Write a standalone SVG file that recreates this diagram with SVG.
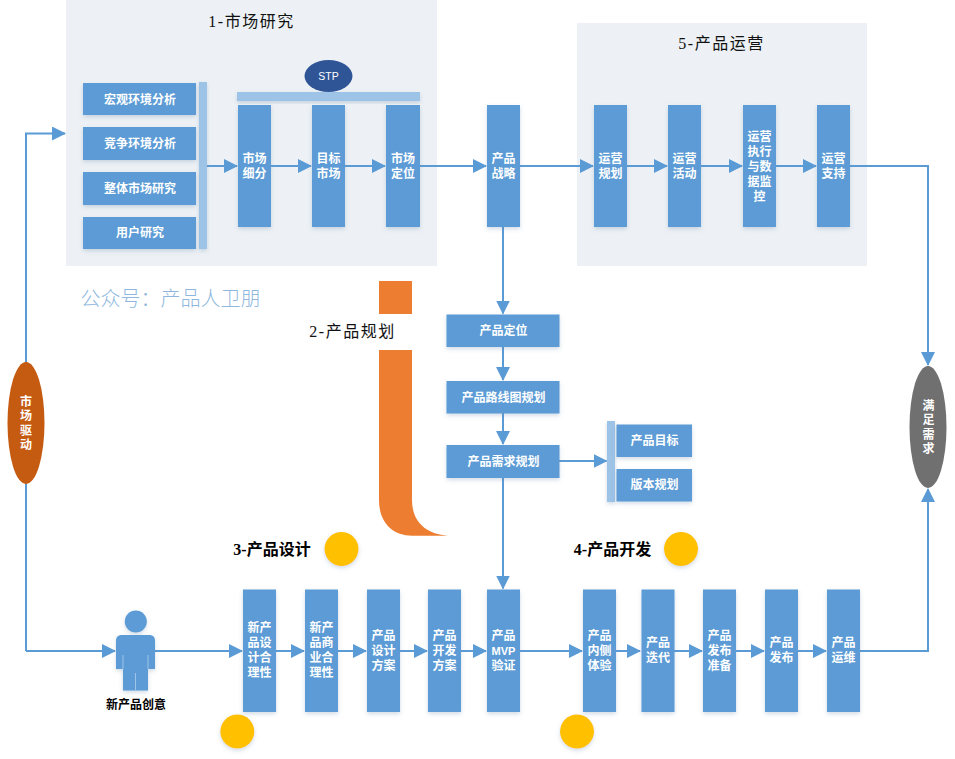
<svg xmlns="http://www.w3.org/2000/svg" width="955" height="759" viewBox="0 0 955 759">
  <style>
    text { font-family: "Liberation Sans", "Noto Sans CJK SC", sans-serif; text-anchor: middle; }
    .panel { fill: #edf1f5; }
    .box { fill: #5b9bd5; filter: url(#soft); }
    .bar { fill: #9dc3e6; filter: url(#soft); }
    .dot { fill: #ffc000; filter: url(#soft); }
    .lbl { fill: #fff; font-size: 12px; font-weight: 700; }
    .title { fill: #111; font-size: 16px; letter-spacing: 1.500px; font-family: "Liberation Serif", "Noto Sans CJK SC", serif; }
    .title2 { fill: #000; font-size: 16px; font-weight: 700; font-family: "Liberation Serif", "Noto Sans CJK SC", serif; }
    .wire { fill: none; stroke: #5b9bd5; stroke-width: 2; }
    .arrow { marker-end: url(#head); }
  </style>
  <defs>
    <marker id="head" markerUnits="userSpaceOnUse" markerWidth="16" markerHeight="16" refX="13" refY="7" orient="auto">
      <path d="M0 0L14 7L0 14Z" fill="#5b9bd5"/>
    </marker>
    <filter id="soft" x="-30%" y="-30%" width="160%" height="160%">
      <feDropShadow dx="0" dy="2" stdDeviation="2" flood-color="#5b7fa5" flood-opacity="0.28"/>
    </filter>
  </defs>

  <rect fill="#fff" width="955" height="759"/>

  <!-- background panels -->
  <g id="panel-research">
    <rect class="panel" x="66" y="0" width="371" height="266"/>
    <text class="title" x="251.500" y="26.500">1-市场研究</text>
  </g>
  <g id="panel-operations">
    <rect class="panel" x="577" y="23" width="290" height="243"/>
    <text class="title" x="721.500" y="49">5-产品运营</text>
  </g>

  <text x="170.500" y="306" font-size="20" fill="#8fb7de" style="font-family:'Noto Sans CJK SC',sans-serif;font-weight:300">公众号：产品人卫朋</text>

  <!-- connectors -->
  <g id="connectors">
    <path class="wire arrow" d="M207 166H237"/>
    <path class="wire arrow" d="M271 166H311"/>
    <path class="wire arrow" d="M345 166H385"/>
    <path class="wire arrow" d="M420 166H486"/>
    <path class="wire arrow" d="M520 166H593"/>
    <path class="wire arrow" d="M627 166H667"/>
    <path class="wire arrow" d="M701 166H742"/>
    <path class="wire arrow" d="M776 166H816"/>
    <path class="wire arrow" d="M850 166H928V365"/>
    <path class="wire arrow" d="M503 227V313.500"/>
    <path class="wire arrow" d="M503 347V380"/>
    <path class="wire arrow" d="M503 413V444"/>
    <path class="wire arrow" d="M503 478V588.500"/>
    <path class="wire arrow" d="M559 461H606.500"/>
    <path class="wire arrow" d="M26 651V133.500H65"/>
    <path class="wire arrow" d="M26 651H115"/>
    <path class="wire arrow" d="M155 651H242"/>
    <path class="wire arrow" d="M276 651H304"/>
    <path class="wire arrow" d="M338 651H366"/>
    <path class="wire arrow" d="M400 651H427"/>
    <path class="wire arrow" d="M461 651H486"/>
    <path class="wire arrow" d="M520 651H582"/>
    <path class="wire arrow" d="M616 651H640"/>
    <path class="wire arrow" d="M674 651H702"/>
    <path class="wire arrow" d="M736 651H764"/>
    <path class="wire arrow" d="M798 651H826"/>
    <path class="wire arrow" d="M860 651H928V489"/>
  </g>

  <!-- market research inputs -->
  <g id="input-bar"><rect class="bar" x="199" y="82" width="8" height="167"/></g>
  <g id="macro"><rect class="box" x="83" y="83" width="113" height="32"/><text class="lbl" x="140" y="103.500">宏观环境分析</text></g>
  <g id="competition"><rect class="box" x="83" y="127" width="113" height="33"/><text class="lbl" x="140" y="148">竞争环境分析</text></g>
  <g id="overall"><rect class="box" x="83" y="172" width="113" height="33"/><text class="lbl" x="140" y="192.500">整体市场研究</text></g>
  <g id="user-research"><rect class="box" x="83" y="217" width="113" height="32"/><text class="lbl" x="140" y="237">用户研究</text></g>

  <!-- STP -->
  <g id="stp-bar"><rect class="bar" x="237" y="92" width="183" height="9"/></g>
  <g id="stp"><ellipse cx="328.500" cy="76" rx="24" ry="16" fill="#2f5597"/><text x="328.500" y="80" font-size="10.500" fill="#fff">STP</text></g>
  <g id="segment"><rect class="box" x="238" y="105" width="33" height="122"/><text class="lbl" x="254.500" y="162.500">市场<tspan x="254.500" dy="15">细分</tspan></text></g>
  <g id="target"><rect class="box" x="312" y="105" width="33" height="122"/><text class="lbl" x="328.500" y="162.500">目标<tspan x="328.500" dy="15">市场</tspan></text></g>
  <g id="position"><rect class="box" x="386" y="105" width="34" height="122"/><text class="lbl" x="403" y="162.500">市场<tspan x="403" dy="15">定位</tspan></text></g>
  <g id="strategy"><rect class="box" x="487" y="105" width="33" height="122"/><text class="lbl" x="503.500" y="162.500">产品<tspan x="503.500" dy="15">战略</tspan></text></g>

  <!-- operations -->
  <g id="ops-plan"><rect class="box" x="594" y="105" width="33" height="122"/><text class="lbl" x="610.500" y="162.500">运营<tspan x="610.500" dy="15">规划</tspan></text></g>
  <g id="ops-activity"><rect class="box" x="668" y="105" width="33" height="122"/><text class="lbl" x="684.500" y="162.500">运营<tspan x="684.500" dy="15">活动</tspan></text></g>
  <g id="ops-exec"><rect class="box" x="743" y="105" width="33" height="122"/><text class="lbl" x="759.500" y="140.500">运营<tspan x="759.500" dy="15">执行</tspan><tspan x="759.500" dy="15">与数</tspan><tspan x="759.500" dy="15">据监</tspan><tspan x="759.500" dy="15">控</tspan></text></g>
  <g id="ops-support"><rect class="box" x="817" y="105" width="33" height="122"/><text class="lbl" x="833.500" y="162.500">运营<tspan x="833.500" dy="15">支持</tspan></text></g>

  <!-- product planning -->
  <g id="planning-mark">
    <rect x="379" y="281" width="33" height="33" fill="#ed7d31"/>
    <path d="M379 350H412V500C412 522 426 534 448 535.700H412C392 535.700 379 522 379 500Z" fill="#ed7d31"/>
    <text class="title" x="352.500" y="337">2-产品规划</text>
  </g>
  <g id="plan-position"><rect class="box" x="446.500" y="314.500" width="113" height="32.500"/><text class="lbl" x="503.500" y="335">产品定位</text></g>
  <g id="plan-roadmap"><rect class="box" x="446.500" y="381" width="113" height="32.500"/><text class="lbl" x="503.500" y="401.500">产品路线图规划</text></g>
  <g id="plan-req"><rect class="box" x="446.500" y="445" width="113" height="33"/><text class="lbl" x="503.500" y="465.500">产品需求规划</text></g>
  <g id="req-bar"><rect class="bar" x="607" y="421" width="8" height="81"/></g>
  <g id="goal"><rect class="box" x="616.500" y="424.500" width="75.500" height="32.500"/><text class="lbl" x="654.500" y="445">产品目标</text></g>
  <g id="version"><rect class="box" x="616.500" y="469" width="75.500" height="32.500"/><text class="lbl" x="654.500" y="489">版本规划</text></g>

  <!-- section headings with dots -->
  <g id="design-heading"><text class="title2" x="272" y="554.500">3-产品设计</text><circle class="dot" cx="341.500" cy="549" r="17"/></g>
  <g id="dev-heading"><text class="title2" x="612.500" y="554.500">4-产品开发</text><circle class="dot" cx="681" cy="549" r="17"/></g>
  <g id="dot-design"><circle class="dot" cx="237.300" cy="731.500" r="17"/></g>
  <g id="dot-dev"><circle class="dot" cx="577" cy="731.500" r="17"/></g>

  <!-- new idea actor -->
  <g id="idea">
    <circle cx="135.800" cy="621.500" r="11" fill="#5b9bd5" filter="url(#soft)"/>
    <path d="M122 635H149C153 635 155 637 155 641V669H148V690.500H123V669H116V641C116 637 118 635 122 635Z" fill="#5b9bd5" filter="url(#soft)"/>
    <path d="M123 655V669M148 655V669M135.500 673V690" stroke="#9dc3e6" fill="none"/>
    <text x="136" y="708.500" font-size="12" font-weight="700" fill="#000">新产品创意</text>
  </g>

  <!-- design stages -->
  <g id="d1"><rect class="box" x="243" y="589.500" width="33" height="122.500"/><text class="lbl" x="259.500" y="632">新产<tspan x="259.500" dy="15">品设</tspan><tspan x="259.500" dy="15">计合</tspan><tspan x="259.500" dy="15">理性</tspan></text></g>
  <g id="d2"><rect class="box" x="305" y="589.500" width="33" height="122.500"/><text class="lbl" x="321.500" y="632">新产<tspan x="321.500" dy="15">品商</tspan><tspan x="321.500" dy="15">业合</tspan><tspan x="321.500" dy="15">理性</tspan></text></g>
  <g id="d3"><rect class="box" x="367" y="589.500" width="33" height="122.500"/><text class="lbl" x="383.500" y="639.500">产品<tspan x="383.500" dy="15">设计</tspan><tspan x="383.500" dy="15">方案</tspan></text></g>
  <g id="d4"><rect class="box" x="428" y="589.500" width="33" height="122.500"/><text class="lbl" x="444.500" y="639.500">产品<tspan x="444.500" dy="15">开发</tspan><tspan x="444.500" dy="15">方案</tspan></text></g>
  <g id="mvp"><rect class="box" x="487" y="589.500" width="33" height="122.500"/><text class="lbl" x="503.500" y="639.500">产品<tspan x="503.500" dy="15" font-size="11">MVP</tspan><tspan x="503.500" dy="15">验证</tspan></text></g>

  <!-- development stages -->
  <g id="v1"><rect class="box" x="583" y="589.500" width="33" height="122.500"/><text class="lbl" x="599.500" y="639.500">产品<tspan x="599.500" dy="15">内侧</tspan><tspan x="599.500" dy="15">体验</tspan></text></g>
  <g id="v2"><rect class="box" x="641.500" y="589.500" width="33" height="122.500"/><text class="lbl" x="658" y="647">产品<tspan x="658" dy="15">迭代</tspan></text></g>
  <g id="v3"><rect class="box" x="703" y="589.500" width="33" height="122.500"/><text class="lbl" x="719.500" y="639.500">产品<tspan x="719.500" dy="15">发布</tspan><tspan x="719.500" dy="15">准备</tspan></text></g>
  <g id="v4"><rect class="box" x="765" y="589.500" width="33" height="122.500"/><text class="lbl" x="781.500" y="647">产品<tspan x="781.500" dy="15">发布</tspan></text></g>
  <g id="v5"><rect class="box" x="827" y="589.500" width="33" height="122.500"/><text class="lbl" x="843.500" y="647">产品<tspan x="843.500" dy="15">运维</tspan></text></g>

  <!-- end caps of the loop -->
  <g id="market-driven">
    <ellipse cx="26" cy="423" rx="18.500" ry="61" fill="#c55a11"/>
    <text class="lbl" x="26" y="405.500">市<tspan x="26" dy="14.500">场</tspan><tspan x="26" dy="14.500">驱</tspan><tspan x="26" dy="14.500">动</tspan></text>
  </g>
  <g id="needs-met">
    <ellipse cx="928" cy="427" rx="18.500" ry="61" fill="#707070"/>
    <text class="lbl" x="928.500" y="409.500">满<tspan x="928.500" dy="14.500">足</tspan><tspan x="928.500" dy="14.500">需</tspan><tspan x="928.500" dy="14.500">求</tspan></text>
  </g>
</svg>
